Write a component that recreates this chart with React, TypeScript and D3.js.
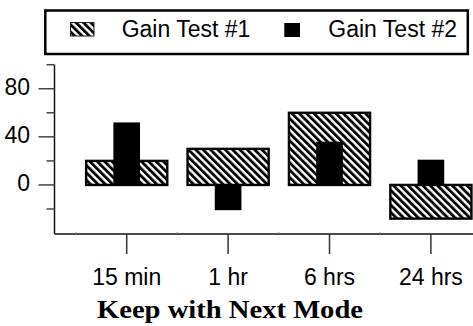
import React from "react";
import * as d3 from "d3";

const categories = ["15 min", "1 hr", "6 hrs", "24 hrs"];
const gainTest1 = [20, 30, 60, -28];
const gainTest2 = [52, -21, 36, 21];
const yMajorTicks = [0, 40, 80];
const yMinorTicks = [-20, 20, 60, 100];
const seriesNames = ["Gain Test #1", "Gain Test #2"];
const title = "Keep with Next Mode";

const W = 473;
const H = 326;
const axisX = 54.5;
const axisY = 234;
const sans = "Liberation Sans, Arial, Helvetica, sans-serif";

export default function App() {
  const x = d3.scaleBand<string>().domain(categories).range([76, 481.6]).paddingInner(0).paddingOuter(0);
  const y = d3.scaleLinear().domain([-40.8, 100]).range([axisY, 64.7]);
  const step = x.step();
  const w1 = step * 0.8;
  const w2 = step * 0.263;
  const boundaries = categories.map((c) => x(c)!);

  return (
    <svg width={W} height={H} style={{ position: "absolute", left: 0, top: 0, background: "#fff" }}>
      <defs>
        <pattern id="hatch" patternUnits="userSpaceOnUse" width={5.2} height={5.2} patternTransform="rotate(-45)">
          <rect x={0} y={0} width={5.2} height={5.2} fill="#fff" />
          <rect x={0} y={0} width={2.8} height={5.2} fill="#000" />
        </pattern>
      </defs>

      {/* Legend */}
      <rect x={45.3} y={10.5} width={422.5} height={43.5} fill="#fff" stroke="#000" strokeWidth={2.5} />
      <rect x={70.5} y={22.5} width={23.5} height={13.5} fill="url(#hatch)" stroke="#222" strokeWidth={1} />
      <text x={121.7} y={31} fontFamily={sans} fontSize={23} dominantBaseline="middle" fill="#000">{seriesNames[0]}</text>
      <rect x={284.3} y={23} width={15.7} height={14} fill="#000" />
      <text x={328.3} y={31} fontFamily={sans} fontSize={23} dominantBaseline="middle" fill="#000">{seriesNames[1]}</text>

      {/* Bars: series 1 (hatched) */}
      {categories.map((c, i) => {
        const cx = x(c)! + step / 2;
        const v = gainTest1[i];
        const top = y(Math.max(0, v));
        const bot = y(Math.min(0, v));
        return (
          <rect key={"a" + c} x={cx - w1 / 2} y={top} width={w1} height={bot - top}
            fill="url(#hatch)" stroke="#000" strokeWidth={2.4} />
        );
      })}
      {/* Bars: series 2 (solid) */}
      {categories.map((c, i) => {
        const cx = x(c)! + step / 2;
        const v = gainTest2[i];
        const top = y(Math.max(0, v));
        const bot = y(Math.min(0, v));
        return <rect key={"b" + c} x={cx - w2 / 2} y={top} width={w2} height={bot - top} fill="#000" />;
      })}

      {/* Y axis */}
      <line x1={axisX} x2={axisX} y1={y(100)} y2={axisY} stroke="#111" strokeWidth={1.5} />
      {yMajorTicks.map((t) => (
        <g key={"ym" + t}>
          <line x1={axisX - 16} x2={axisX} y1={y(t)} y2={y(t)} stroke="#444" strokeWidth={1.5} />
          <text x={30} y={y(t)} textAnchor="end" dominantBaseline="middle" fontFamily={sans} fontSize={23} fill="#000">{t}</text>
        </g>
      ))}
      {yMinorTicks.map((t) => (
        <line key={"yn" + t} x1={axisX - 8} x2={axisX} y1={y(t)} y2={y(t)} stroke="#444" strokeWidth={1.5} />
      ))}

      {/* X axis */}
      <line x1={axisX} x2={W} y1={axisY} y2={axisY} stroke="#111" strokeWidth={1.5} />
      {boundaries.map((b, i) => (
        <line key={"xb" + i} x1={b} x2={b} y1={axisY} y2={axisY - 2} stroke="#888" strokeWidth={1} />
      ))}
      {categories.map((c) => {
        const cx = x(c)! + step / 2;
        return (
          <g key={"xt" + c}>
            <line x1={cx} x2={cx} y1={axisY} y2={axisY + 20} stroke="#333" strokeWidth={1.5} />
            <text x={cx} y={285} textAnchor="middle" fontFamily={sans} fontSize={23} fill="#000">{c}</text>
          </g>
        );
      })}

      {/* Title */}
      <text x={230} y={318} textAnchor="middle" fontFamily="Liberation Serif, Times New Roman, serif" fontWeight="bold"
        fontSize={25} textLength={266} lengthAdjust="spacingAndGlyphs" fill="#000">{title}</text>
    </svg>
  );
}
